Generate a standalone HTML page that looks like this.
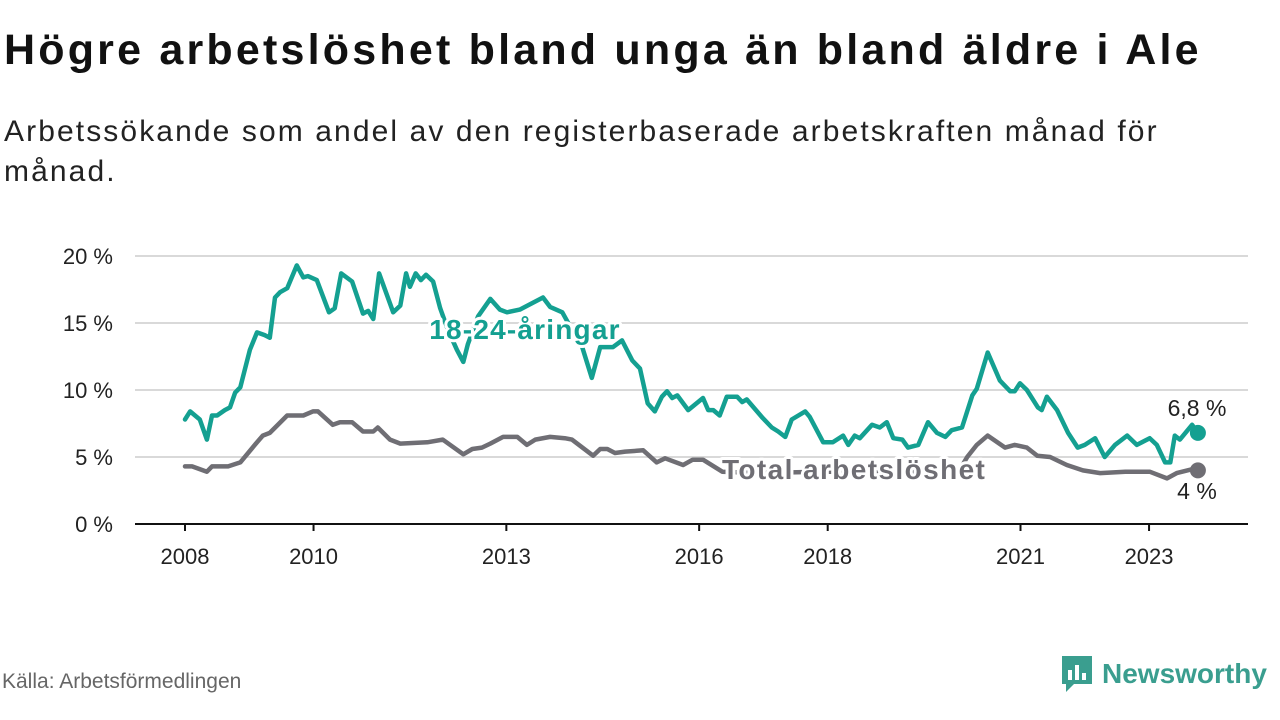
<!DOCTYPE html>
<html><head><meta charset="utf-8">
<style>
body{margin:0;width:1280px;height:720px;background:#fff;font-family:"Liberation Sans",sans-serif;overflow:hidden;position:relative}
h1{position:absolute;left:4px;top:26px;margin:0;font-size:43px;font-weight:bold;color:#111;letter-spacing:3.2px;white-space:nowrap}
.sub{position:absolute;left:4px;top:112px;width:1270px;font-size:30px;line-height:40px;color:#222;letter-spacing:2.1px}
.src{position:absolute;left:2px;top:670px;font-size:21px;color:#666}
.logo{position:absolute;left:1060px;top:654px;display:flex;align-items:center}
.logo span{font-size:28px;font-weight:bold;color:#3a9e8f;margin-left:8px}
</style></head><body>
<h1>Högre arbetslöshet bland unga än bland äldre i Ale</h1>
<div class="sub">Arbetssökande som andel av den registerbaserade arbetskraften månad för<br>månad.</div>
<svg id="chart" width="1280" height="720" style="position:absolute;left:0;top:0"></svg>
<div class="src">Källa: Arbetsförmedlingen</div>
<div class="logo">
<svg width="34" height="40" viewBox="0 0 34 40"><path d="M2 2h30v28H14l-8 8v-8H2z" fill="#3a9e8f"/><rect x="8" y="16" width="4" height="10" fill="#fff"/><rect x="15" y="11" width="4" height="15" fill="#fff"/><rect x="22" y="19" width="4" height="7" fill="#fff"/></svg>
<span>Newsworthy</span></div>
<script>
const yTicks=[0,5,10,15,20];
const xTicks=[2008,2010,2013,2016,2018,2021,2023];
const youthDates=[2008.0,2008.08,2008.23,2008.34,2008.42,2008.5,2008.62,2008.7,2008.78,2008.86,2009.01,2009.12,2009.24,2009.32,2009.4,2009.48,2009.59,2009.74,2009.84,2009.91,2010.05,2010.24,2010.33,2010.43,2010.6,2010.77,2010.85,2010.93,2011.02,2011.24,2011.35,2011.44,2011.5,2011.59,2011.67,2011.75,2011.86,2011.97,2012.09,2012.23,2012.33,2012.4,2012.56,2012.75,2012.9,2013.01,2013.21,2013.41,2013.57,2013.68,2013.87,2014.02,2014.18,2014.33,2014.46,2014.66,2014.8,2014.96,2015.08,2015.2,2015.31,2015.42,2015.5,2015.58,2015.66,2015.83,2016.06,2016.14,2016.22,2016.32,2016.43,2016.59,2016.67,2016.74,2016.99,2017.13,2017.23,2017.34,2017.44,2017.65,2017.72,2017.93,2018.08,2018.24,2018.32,2018.42,2018.5,2018.69,2018.81,2018.92,2019.02,2019.16,2019.25,2019.41,2019.56,2019.7,2019.83,2019.93,2020.09,2020.25,2020.32,2020.49,2020.68,2020.84,2020.91,2020.99,2021.1,2021.27,2021.33,2021.41,2021.57,2021.74,2021.89,2022.0,2022.16,2022.31,2022.47,2022.66,2022.81,2023.01,2023.12,2023.25,2023.33,2023.4,2023.48,2023.67,2023.76];
const youthValues=[7.8,8.4,7.8,6.3,8.1,8.1,8.5,8.7,9.8,10.2,13.0,14.3,14.1,13.9,16.9,17.3,17.6,19.3,18.4,18.5,18.2,15.8,16.1,18.7,18.1,15.7,15.9,15.3,18.7,15.8,16.3,18.7,17.7,18.7,18.2,18.6,18.1,16.1,14.5,13.0,12.1,13.4,15.5,16.8,16.0,15.8,16.0,16.5,16.9,16.2,15.8,14.5,13.2,10.9,13.2,13.2,13.7,12.2,11.6,9.0,8.4,9.5,9.9,9.4,9.6,8.5,9.4,8.5,8.5,8.1,9.5,9.5,9.1,9.3,7.9,7.2,6.9,6.5,7.8,8.4,8.0,6.1,6.1,6.6,5.9,6.6,6.4,7.4,7.2,7.6,6.4,6.3,5.7,5.9,7.6,6.8,6.5,7.0,7.2,9.6,10.1,12.8,10.7,9.9,9.9,10.5,10.0,8.7,8.5,9.5,8.5,6.8,5.7,5.9,6.4,5.0,5.9,6.6,5.9,6.4,5.9,4.6,4.6,6.6,6.3,7.4,6.8];
const totalDates=[2008.0,2008.11,2008.34,2008.42,2008.67,2008.86,2009.12,2009.21,2009.32,2009.59,2009.84,2009.99,2010.07,2010.3,2010.41,2010.6,2010.77,2010.93,2011.0,2011.19,2011.35,2011.77,2012.01,2012.33,2012.47,2012.62,2012.75,2012.95,2013.17,2013.32,2013.45,2013.68,2013.91,2014.02,2014.35,2014.46,2014.57,2014.69,2014.85,2015.13,2015.34,2015.47,2015.75,2015.9,2016.06,2016.36,2016.95,2017.88,2018.81,2019.75,2020.06,2020.17,2020.32,2020.49,2020.76,2020.91,2021.1,2021.26,2021.46,2021.72,2021.97,2022.24,2022.63,2023.01,2023.28,2023.43,2023.68,2023.76];
const totalValues=[4.3,4.3,3.9,4.3,4.3,4.6,6.1,6.6,6.8,8.1,8.1,8.4,8.4,7.4,7.6,7.6,6.9,6.9,7.2,6.3,6.0,6.1,6.3,5.2,5.6,5.7,6.0,6.5,6.5,5.9,6.3,6.5,6.4,6.3,5.1,5.6,5.6,5.3,5.4,5.5,4.6,4.9,4.4,4.8,4.8,3.9,3.8,3.9,3.9,3.9,4.1,5.0,5.9,6.6,5.7,5.9,5.7,5.1,5.0,4.4,4.0,3.8,3.9,3.9,3.4,3.8,4.1,4.0];

const NS="http://www.w3.org/2000/svg";
const svg=document.getElementById('chart');
const X=y=>185+(y-2008)*64.27;
const Y=v=>524-v*13.4;
function mk(tag,attrs,parent){const e=document.createElementNS(NS,tag);for(const k in attrs)e.setAttribute(k,attrs[k]);(parent||svg).appendChild(e);return e;}
yTicks.forEach(t=>{
  if(t>0){const g=mk('line',{x1:135,x2:1248,y1:Y(t),y2:Y(t),stroke:'#d9d9d9','stroke-width':2});
  
  }
  const l=mk('text',{x:113,y:Y(t)+8,'text-anchor':'end','font-size':22,fill:'#222'});
  l.textContent=t+' %';
  
  
});
const base=mk('line',{x1:135,x2:1248,y1:524,y2:524,stroke:'#111','stroke-width':2});


xTicks.forEach(t=>{
  mk('line',{x1:X(t),x2:X(t),y1:524,y2:531,stroke:'#111','stroke-width':2});
  const l=mk('text',{x:X(t),y:564,'text-anchor':'middle','font-size':22,fill:'#222'});
  l.textContent=t;
  
  
});
function line(d,v,c,name){
  const p=mk('path',{d:d.map((x,i)=>(i?'L':'M')+X(x).toFixed(1)+' '+Y(v[i]).toFixed(1)).join(''),fill:'none',stroke:c,'stroke-width':4.5,'stroke-linejoin':'round','stroke-linecap':'round'});
  
  
  const n=d.length-1;
  const dot=mk('circle',{cx:X(d[n]),cy:Y(v[n]),r:8,fill:c});
  
  
}
line(totalDates,totalValues,'#6f6e74','total-line');
line(youthDates,youthValues,'#14a091','youth-line');
function lab(txt,x,y,c,size,w,anchor,ls,name){
  const t=mk('text',{x:x,y:y,'font-size':size,'font-weight':w,fill:c,'text-anchor':anchor,'letter-spacing':ls,stroke:'#fff','stroke-width':6,'paint-order':'stroke','stroke-linejoin':'round'});
  t.textContent=txt;
  
  
}
lab('18-24-åringar',525,339,'#14a091',28,'bold','middle',1.2,'youth-series-label');
lab('Total arbetslöshet',722,479,'#6f6e74',28,'bold','start',1.4,'total-series-label');
lab('6,8 %',1197,416,'#222',23,'normal','middle',0,'youth-end-value');
lab('4 %',1197,499,'#222',23,'normal','middle',0,'total-end-value');
</script>
</body></html>
